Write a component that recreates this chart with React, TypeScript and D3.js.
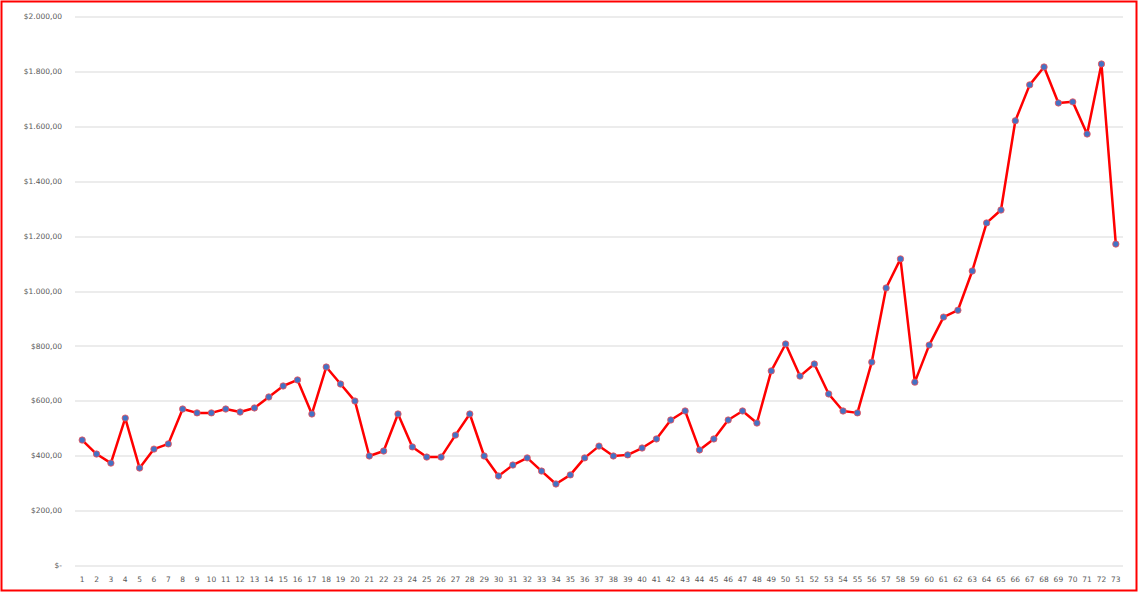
import React, { useEffect, useRef } from 'react';
import * as d3 from 'd3';

const periods: number[] = Array.from({ length: 73 }, (_, i) => i + 1);

const prices: number[] = [
  457, 406, 373, 537, 355, 424, 443, 570, 556, 556,
  570, 559, 574, 614, 654, 676, 552, 723, 661, 599,
  399, 417, 552, 432, 395, 395, 475, 552, 399, 326,
  366, 392, 344, 297, 330, 392, 435, 399, 403, 428,
  461, 530, 563, 421, 461, 530, 563, 519, 709, 807,
  690, 734, 625, 563, 556, 741, 1011, 1117, 668, 803,
  905, 930, 1073, 1248, 1295, 1620, 1751, 1816, 1685, 1689,
  1572, 1827, 1171,
];

const yTicks: number[] = [0, 200, 400, 600, 800, 1000, 1200, 1400, 1600, 1800, 2000];

const W = 1140;
const H = 593;

const App: React.FC = () => {
  const svgRef = useRef<SVGSVGElement>(null);

  useEffect(() => {
    if (!svgRef.current) return;
    document.body.style.margin = '0';

    const svg = d3.select(svgRef.current);
    svg.selectAll('*').remove();

    const margin = { top: 16.5, right: 17, bottom: 27.5, left: 75 };
    const innerW = W - margin.left - margin.right;
    const innerH = H - margin.top - margin.bottom;

    const locale = d3.formatLocale({
      decimal: ',',
      thousands: '.',
      grouping: [3],
      currency: ['$', ''],
    });
    const money = locale.format('$,.2f');
    const fmt = (v: number) => (v === 0 ? '$-' : money(v));

    // outer frame
    svg.append('rect')
      .attr('x', 1.5)
      .attr('y', 1.5)
      .attr('width', W - 5)
      .attr('height', H - 4)
      .attr('fill', '#fff')
      .attr('stroke', '#ff0000')
      .attr('stroke-width', 2);

    const g = svg.append('g')
      .attr('transform', `translate(${margin.left},${margin.top})`);

    const x = d3.scaleBand<number>()
      .domain(periods)
      .range([0, innerW]);

    const y = d3.scaleLinear()
      .domain([0, 2000])
      .range([innerH, 0]);

    // gridlines
    g.append('g')
      .selectAll('line')
      .data(yTicks)
      .enter()
      .append('line')
      .attr('x1', 0)
      .attr('x2', innerW)
      .attr('y1', d => Math.round(y(d)) + 0.5)
      .attr('y2', d => Math.round(y(d)) + 0.5)
      .attr('stroke', '#d9d9d9')
      .attr('stroke-width', 1);

    // y labels
    g.append('g')
      .selectAll('text')
      .data(yTicks)
      .enter()
      .append('text')
      .attr('x', -13)
      .attr('y', d => y(d))
      .attr('dy', '0.35em')
      .attr('text-anchor', 'end')
      .style('font-family', 'DejaVu Sans, sans-serif')
      .style('font-size', '7.5px')
      .style('fill', '#595959')
      .text(d => fmt(d));

    // x labels
    g.append('g')
      .selectAll('text')
      .data(periods)
      .enter()
      .append('text')
      .attr('x', d => (x(d) || 0) + x.bandwidth() / 2)
      .attr('y', innerH + 16)
      .attr('text-anchor', 'middle')
      .style('font-family', 'DejaVu Sans, sans-serif')
      .style('font-size', '7.5px')
      .style('fill', '#595959')
      .text(d => String(d));

    const cx = (i: number) => (x(periods[i]) || 0) + x.bandwidth() / 2;

    const line = d3.line<number>()
      .x((_, i) => cx(i))
      .y(d => y(d));

    g.append('path')
      .datum(prices)
      .attr('d', line)
      .attr('fill', 'none')
      .attr('stroke', '#ff0000')
      .attr('stroke-width', 2.5)
      .attr('stroke-linejoin', 'round');

    g.append('g')
      .selectAll('circle')
      .data(prices)
      .enter()
      .append('circle')
      .attr('cx', (_, i) => cx(i))
      .attr('cy', d => y(d))
      .attr('r', 3.2)
      .attr('fill', '#4472c4')
      .attr('stroke', '#ff4d4d')
      .attr('stroke-width', 0.75);
  }, []);

  return (
    <div style={{ position: 'absolute', left: 0, top: 0 }}>
      <svg ref={svgRef} width={W} height={H} style={{ display: 'block' }} />
    </div>
  );
};

export default App;
